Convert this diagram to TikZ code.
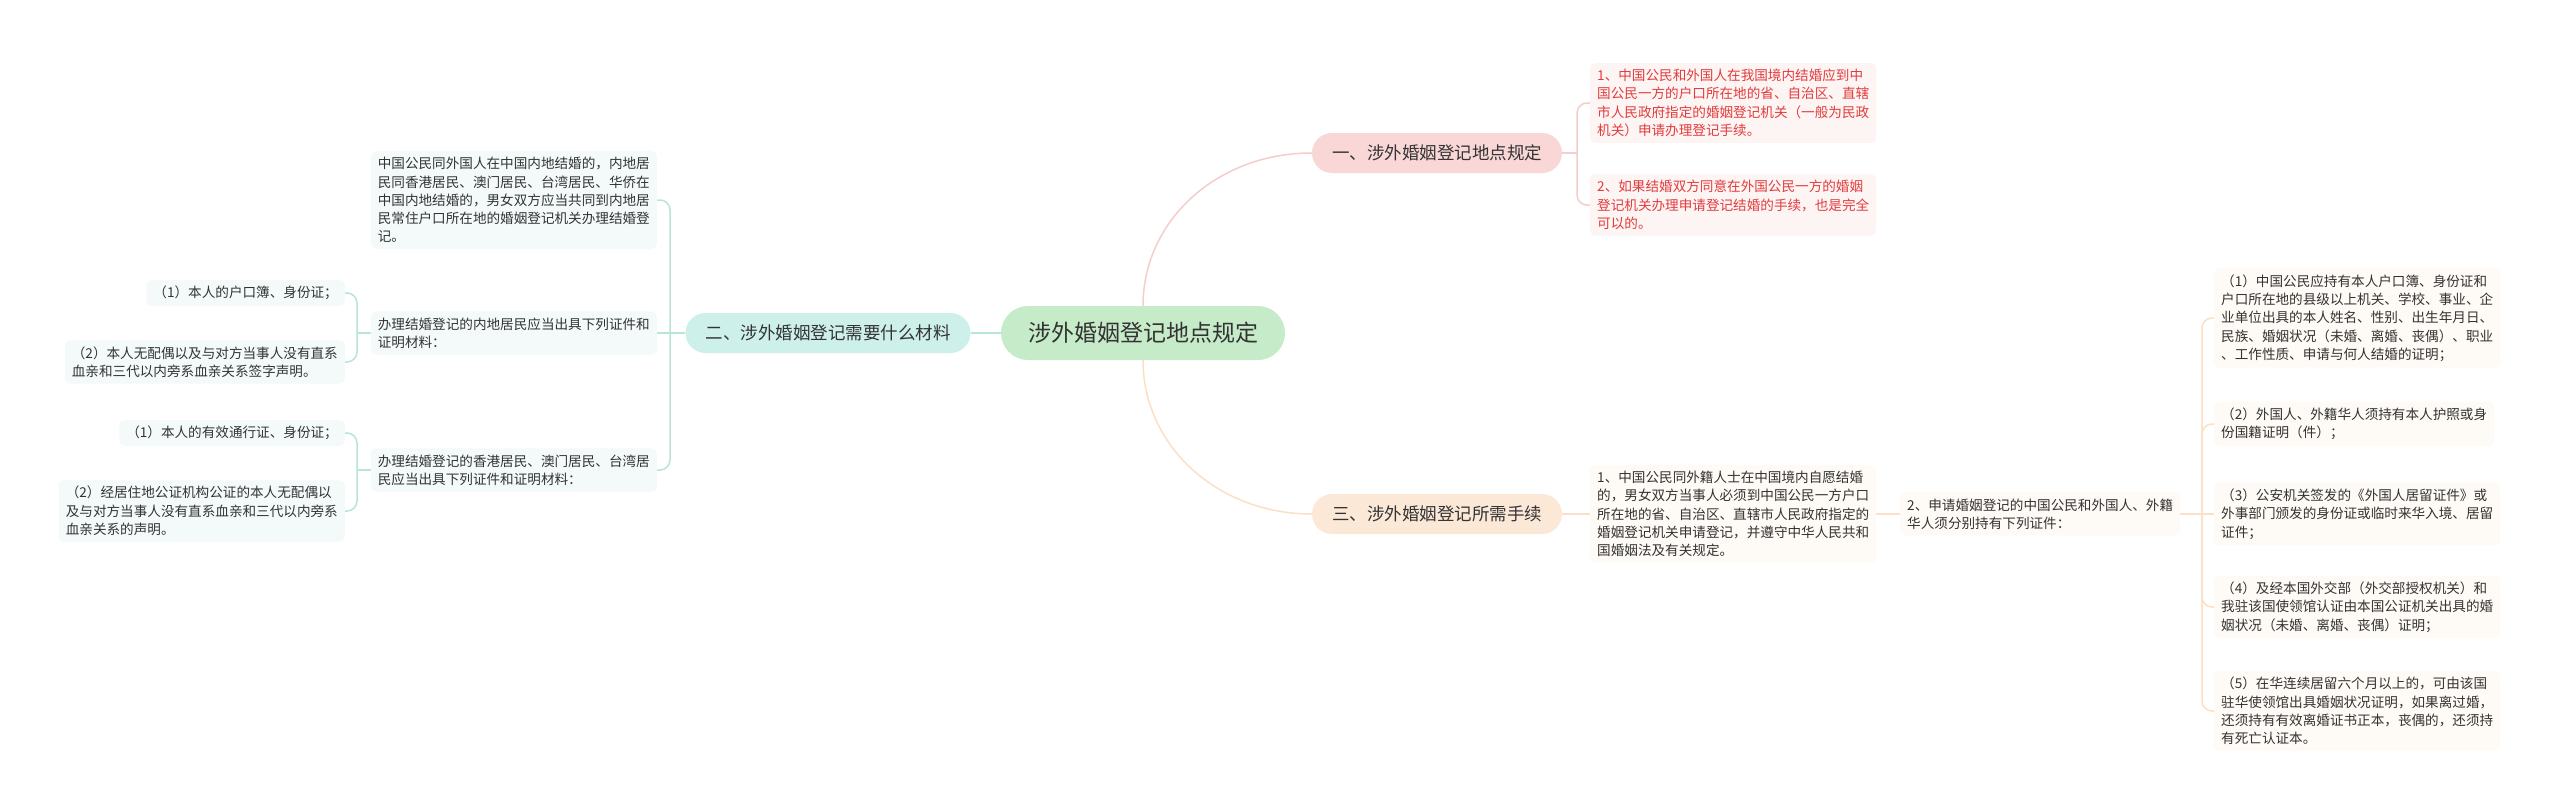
\documentclass[tikz,border=0pt]{standalone}
\usepackage{fontspec}
\setmainfont{Noto Sans CJK SC}
\usepackage{tikz}
\definecolor{txt}{RGB}{51,51,51}
\definecolor{redtxt}{RGB}{226,60,60}
\definecolor{rootgreen}{RGB}{198,235,200}
\definecolor{pinkbox}{RGB}{249,215,215}
\definecolor{tealbox}{RGB}{206,240,234}
\definecolor{peachbox}{RGB}{252,232,215}
\definecolor{pinkleaf}{RGB}{253,244,244}
\definecolor{tealleaf}{RGB}{244,250,250}
\definecolor{peachleaf}{RGB}{254,250,245}
\definecolor{pinkline}{RGB}{245,205,205}
\definecolor{tealline}{RGB}{185,228,218}
\definecolor{peachline}{RGB}{250,224,198}

\begin{document}
\begin{tikzpicture}[x=1pt,y=-1pt,
  leaf/.style={fill=#1,rounded corners=5pt,inner xsep=7pt,inner ysep=6pt,align=left,text=txt,font=\fontsize{13.6}{18.3}\selectfont},
  topic/.style={fill=#1,rounded corners=20pt,minimum height=40pt,inner xsep=20pt,text=txt,font=\fontsize{17.5}{21}\selectfont},
  link/.style={line width=1.5pt,draw=#1}]
\useasboundingbox (0,0) rectangle (2560,811);
\fill[white] (0,0) rectangle (2560,811);
\node[fill=rootgreen,rounded corners=27pt,minimum height=54pt,inner xsep=27pt,text=txt,font=\fontsize{23}{27}\selectfont] (root) at (1143,333) {涉外婚姻登记地点规定};
\node[topic=pinkbox] (loc) at (1437,153) {一、涉外婚姻登记地点规定};
\node[topic=tealbox] (mat) at (828,333) {二、涉外婚姻登记需要什么材料};
\node[topic=peachbox] (proc) at (1437,514) {三、涉外婚姻登记所需手续};
\draw[link=pinkline] (root.north) .. controls +(0,-85) and +(-95,0) .. (loc.west);
\draw[link=peachline] (root.south) .. controls +(0,85) and +(-95,0) .. (proc.west);
\draw[link=tealline] (root.west) -- (mat.east);
\node[leaf=pinkleaf,text=redtxt,anchor=west] (loc1) at (1590,103) {1、中国公民和外国人在我国境内结婚应到中\\国公民一方的户口所在地的省、自治区、直辖\\市人民政府指定的婚姻登记机关（一般为民政\\机关）申请办理登记手续。};
\node[leaf=pinkleaf,text=redtxt,anchor=west] (loc2) at (1590,205) {2、如果结婚双方同意在外国公民一方的婚姻\\登记机关办理申请登记结婚的手续，也是完全\\可以的。};
\coordinate (jloc) at (1577,153);
\draw[link=pinkline] (loc.east) -- (jloc);
\draw[link=pinkline,rounded corners=10pt] (jloc) |- (loc1.west); \draw[link=pinkline,rounded corners=10pt] (jloc) |- (loc2.west);
\node[leaf=tealleaf,anchor=east] (mat1) at (657,200) {中国公民同外国人在中国内地结婚的，内地居\\民同香港居民、澳门居民、台湾居民、华侨在\\中国内地结婚的，男女双方应当共同到内地居\\民常住户口所在地的婚姻登记机关办理结婚登\\记。};
\node[leaf=tealleaf,anchor=east] (mat2) at (657,333) {办理结婚登记的内地居民应当出具下列证件和\\证明材料：};
\node[leaf=tealleaf,anchor=east] (mat3) at (657,470) {办理结婚登记的香港居民、澳门居民、台湾居\\民应当出具下列证件和证明材料：};
\coordinate (jmat) at (670,333);
\draw[link=tealline] (mat.west) -- (jmat); \draw[link=tealline] (jmat) -- (mat2.east);
\draw[link=tealline,rounded corners=10pt] (jmat) |- (mat1.east); \draw[link=tealline,rounded corners=10pt] (jmat) |- (mat3.east);
\node[leaf=tealleaf,anchor=east] (mat21) at (345,293) {（1）本人的户口簿、身份证；};
\node[leaf=tealleaf,anchor=east] (mat22) at (345,362) {（2）本人无配偶以及与对方当事人没有直系\\血亲和三代以内旁系血亲关系签字声明。};
\coordinate (jmat2) at (357,333);
\draw[link=tealline] (mat2.west) -- (jmat2);
\draw[link=tealline,rounded corners=10pt] (jmat2) |- (mat21.east); \draw[link=tealline,rounded corners=10pt] (jmat2) |- (mat22.east);
\node[leaf=tealleaf,anchor=east] (mat31) at (345,433) {（1）本人的有效通行证、身份证；};
\node[leaf=tealleaf,anchor=east] (mat32) at (345,511) {（2）经居住地公证机构公证的本人无配偶以\\及与对方当事人没有直系血亲和三代以内旁系\\血亲关系的声明。};
\coordinate (jmat3) at (357,470);
\draw[link=tealline] (mat3.west) -- (jmat3);
\draw[link=tealline,rounded corners=10pt] (jmat3) |- (mat31.east); \draw[link=tealline,rounded corners=10pt] (jmat3) |- (mat32.east);
\node[leaf=peachleaf,anchor=west] (proc1) at (1590,514) {1、中国公民同外籍人士在中国境内自愿结婚\\的，男女双方当事人必须到中国公民一方户口\\所在地的省、自治区、直辖市人民政府指定的\\婚姻登记机关申请登记，并遵守中华人民共和\\国婚姻法及有关规定。};
\node[leaf=peachleaf,anchor=west] (proc2) at (1900,514) {2、申请婚姻登记的中国公民和外国人、外籍\\华人须分别持有下列证件：};
\draw[link=peachline] (proc.east) -- (proc1.west); \draw[link=peachline] (proc1.east) -- (proc2.west);
\node[leaf=peachleaf,anchor=west] (doc1) at (2214,318) {（1）中国公民应持有本人户口簿、身份证和\\户口所在地的县级以上机关、学校、事业、企\\业单位出具的本人姓名、性别、出生年月日、\\民族、婚姻状况（未婚、离婚、丧偶）、职业\\、工作性质、申请与何人结婚的证明；};
\node[leaf=peachleaf,anchor=west] (doc2) at (2214,424) {（2）外国人、外籍华人须持有本人护照或身\\份国籍证明（件）；};
\node[leaf=peachleaf,anchor=west] (doc3) at (2214,514) {（3）公安机关签发的《外国人居留证件》或\\外事部门颁发的身份证或临时来华入境、居留\\证件；};
\node[leaf=peachleaf,anchor=west] (doc4) at (2214,607) {（4）及经本国外交部（外交部授权机关）和\\我驻该国使领馆认证由本国公证机关出具的婚\\姻状况（未婚、离婚、丧偶）证明；};
\node[leaf=peachleaf,anchor=west] (doc5) at (2214,711) {（5）在华连续居留六个月以上的，可由该国\\驻华使领馆出具婚姻状况证明，如果离过婚，\\还须持有有效离婚证书正本，丧偶的，还须持\\有死亡认证本。};
\coordinate (jdoc) at (2202,514);
\draw[link=peachline] (proc2.east) -- (jdoc); \draw[link=peachline] (jdoc) -- (doc3.west);
\draw[link=peachline,rounded corners=10pt] (jdoc) |- (doc1.west); \draw[link=peachline,rounded corners=10pt] (jdoc) |- (doc2.west);
\draw[link=peachline,rounded corners=10pt] (jdoc) |- (doc4.west); \draw[link=peachline,rounded corners=10pt] (jdoc) |- (doc5.west);
\end{tikzpicture}
\end{document}
